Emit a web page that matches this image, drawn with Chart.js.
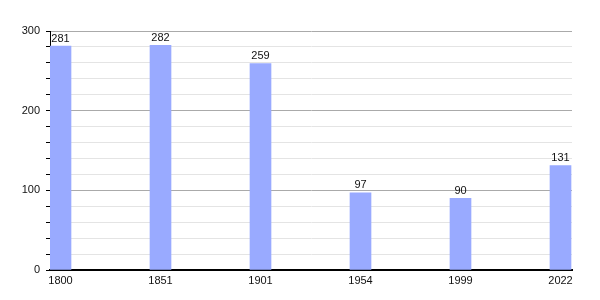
<!DOCTYPE html>
<html>
<head>
<meta charset="utf-8">
<script src="https://cdn.jsdelivr.net/npm/chart.js@4/dist/chart.umd.min.js"></script>
<style>
  html, body { margin: 0; padding: 0; background: #fff; }
  #wrap { width: 600px; height: 300px; }
</style>
</head>
<body>
<div id="wrap"><canvas id="pop"></canvas></div>
<script>
const years = ['1800', '1851', '1901', '1954', '1999', '2022'];
const population = [281, 282, 259, 97, 90, 131];

// small inline plugin to write the value above each bar
const barValues = {
    id: 'barValues',
    afterDatasetsDraw(chart) {
        const c = chart.ctx;
        const meta = chart.getDatasetMeta(0);
        c.save();
        c.font = '11px "Liberation Sans", Arial, sans-serif';
        c.fillStyle = '#111';
        c.textAlign = 'center';
        c.textBaseline = 'bottom';
        meta.data.forEach((bar, i) => {
            c.fillText(population[i], bar.x, bar.y - 2);
        });
        c.restore();
    }
};

const ctx = document.getElementById('pop').getContext('2d');
const popChart = new Chart(ctx, {
    type: 'bar',
    data: {
        datasets: [{
            label: 'population',
            data: population.map((v, i) => ({ x: i, y: v })),
            backgroundColor: '#99aaff',
            borderWidth: 0,
            barThickness: 21
        }]
    },
    options: {
        responsive: true,
        maintainAspectRatio: false,
        animation: false,
        layout: { padding: { top: 31, right: 28, left: 0, bottom: 0 } },
        plugins: {
            legend: { display: false },
            tooltip: { enabled: false }
        },
        scales: {
            x: {
                type: 'linear',
                offset: false,
                min: -0.105,
                max: 5.115,
                afterBuildTicks: (scale) => {
                    scale.ticks = years.map((_, i) => ({ value: i }));
                },
                afterFit: (scale) => { scale.height = 30; },
                grid: { display: false, drawTicks: false, offset: false },
                border: { display: true, color: '#000', width: 2 },
                ticks: {
                    padding: 4,
                    maxRotation: 0,
                    autoSkip: false,
                    color: '#111',
                    font: { family: '"Liberation Sans", Arial, sans-serif', size: 11 },
                    callback: (v) => years[v]
                }
            },
            y: {
                min: 0,
                max: 300,
                afterFit: (scale) => { scale.width = 50; },
                grid: {
                    color: (c) => (c.tick && c.tick.value % 100 === 0) ? '#aaaaaa' : '#e4e4e4',
                    tickColor: '#000',
                    tickLength: 4
                },
                border: { display: true, color: '#000', width: 1 },
                ticks: {
                    stepSize: 20,
                    padding: 6,
                    autoSkip: false,
                    color: '#111',
                    font: { family: '"Liberation Sans", Arial, sans-serif', size: 11 },
                    callback: (v) => (v % 100 === 0 ? v : '')
                }
            }
        }
    },
    plugins: [barValues]
});
</script>
</body>
</html>
